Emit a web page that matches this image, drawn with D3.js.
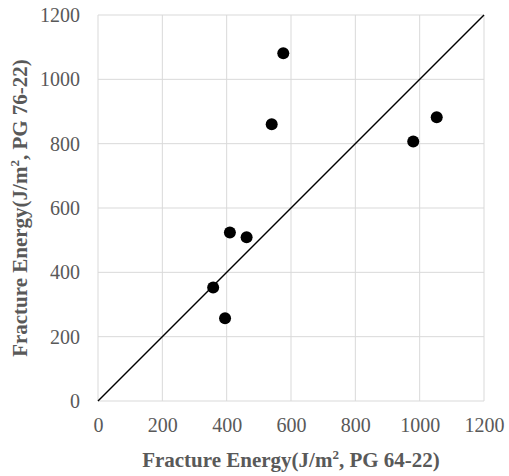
<!DOCTYPE html>
<html><head><meta charset="utf-8">
<script src="https://cdn.jsdelivr.net/npm/d3@7"></script>
<style>body{margin:0;background:#fff}</style>
</head><body>
<svg id="chart" width="509" height="476"></svg>
<script>
const xValues = [576, 540, 980, 1053, 410, 462, 358, 395];
const yValues = [1081, 860, 807, 882, 524, 509, 353, 257];
const tickValues = [0, 200, 400, 600, 800, 1000, 1200];
const lineEnds = [0, 1200];
const xTitle = "Fracture Energy(J/m², PG 64-22)";
const yTitle = "Fracture Energy(J/m², PG 76-22)";

(function () {
const svg = d3.select("#chart");
const pL = 98, pR = 484, pT = 15, pB = 401;
const x = d3.scaleLinear().domain([0, 1200]).range([pL, pR]);
const y = d3.scaleLinear().domain([0, 1200]).range([pB, pT]);
const font = "'Liberation Serif','Times New Roman',serif";

// grid
svg.append("g").selectAll("line").data(tickValues).join("line")
  .attr("x1", d => x(d)).attr("x2", d => x(d)).attr("y1", pT).attr("y2", pB)
  .attr("stroke", "#d9d9d9").attr("stroke-width", 1);
svg.append("g").selectAll("line").data(tickValues).join("line")
  .attr("y1", d => y(d)).attr("y2", d => y(d)).attr("x1", pL).attr("x2", pR)
  .attr("stroke", "#d9d9d9").attr("stroke-width", 1);

// axes (labels only)
const xAxis = svg.append("g").attr("transform", `translate(0,${pB})`)
  .call(d3.axisBottom(x).tickValues(tickValues).tickSize(0).tickPadding(17).tickFormat(d3.format("d")));
const yAxis = svg.append("g").attr("transform", `translate(${pL},0)`)
  .call(d3.axisLeft(y).tickValues(tickValues).tickSize(0).tickPadding(18).tickFormat(d3.format("d")));
[xAxis, yAxis].forEach(a => {
  a.select(".domain").remove();
  a.selectAll("text").attr("font-family", font).attr("font-size", 20).attr("fill", "#595959");
});

// diagonal
svg.append("line")
  .attr("x1", x(lineEnds[0])).attr("y1", y(lineEnds[0]))
  .attr("x2", x(lineEnds[1])).attr("y2", y(lineEnds[1]))
  .attr("stroke", "#000").attr("stroke-width", 1.5);

// points
svg.append("g").selectAll("circle").data(xValues.map((v, i) => [v, yValues[i]])).join("circle")
  .attr("cx", d => x(d[0])).attr("cy", d => y(d[1])).attr("r", 6).attr("fill", "#000");

// titles
function title(sel, txt) {
  const parts = txt.split("²");
  sel.append("tspan").text(parts[0]);
  sel.append("tspan").text("2").attr("font-size", 13).attr("dy", -8);
  sel.append("tspan").text(parts[1]).attr("dy", 8);
}
const xt = svg.append("text").attr("x", (pL + pR) / 2).attr("y", 467)
  .attr("text-anchor", "middle").attr("font-family", font).attr("font-weight", "bold")
  .attr("font-size", 21).attr("fill", "#595959");
title(xt, xTitle);
const yt = svg.append("text")
  .attr("transform", `translate(27,${(pT + pB) / 2}) rotate(-90)`)
  .attr("text-anchor", "middle").attr("font-family", font).attr("font-weight", "bold")
  .attr("font-size", 21).attr("fill", "#595959");
title(yt, yTitle);
})();
</script>
</body></html>
